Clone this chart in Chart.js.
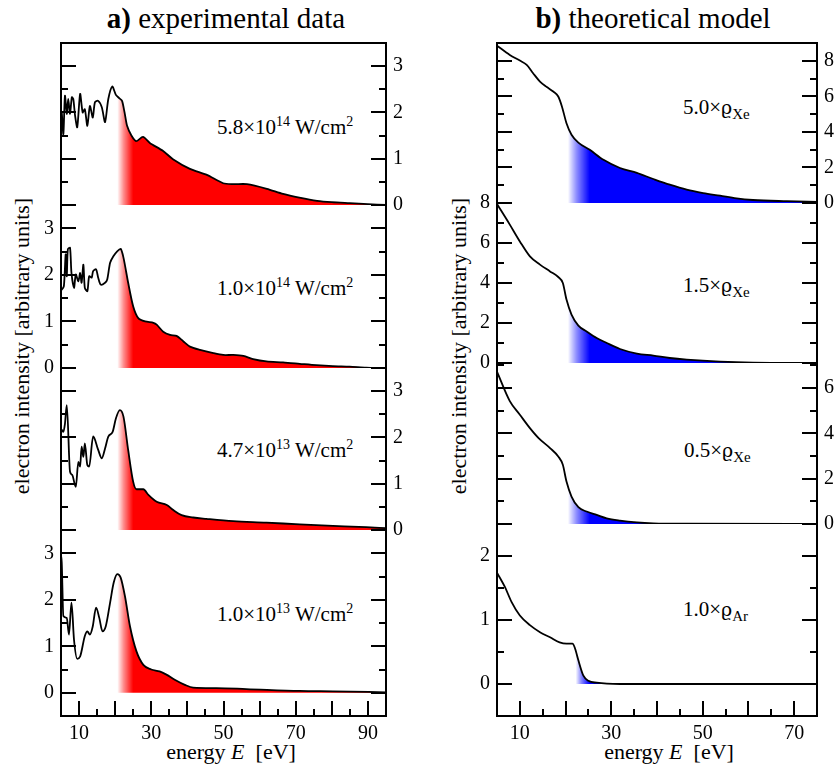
<!DOCTYPE html>
<html>
<head>
<meta charset="utf-8">
<script src="https://cdn.jsdelivr.net/npm/chart.js@4.4.1/dist/chart.umd.min.js"></script>
<style>
  body { margin: 0; background: #fff; }
  #fig { position: relative; width: 839px; height: 768px; overflow: hidden;
         font-family: 'Liberation Serif', 'Times New Roman', serif; color: #000; }
  #fig canvas { position: absolute; }
  .txt { position: absolute; white-space: nowrap; line-height: 1; }
  .head { font-size: 29px; transform: translateX(-50%); }
  .ytitle { font-size: 22px; transform: translate(-50%, -50%) rotate(-90deg); }
  .xtitle { font-size: 22px; transform: translateX(-50%); }
  .note { font-size: 21px; }
  .note sup { font-size: 14px; position: relative; top: -8px; vertical-align: baseline; }
  .note sub { font-size: 15px; position: relative; top: 5px; vertical-align: baseline; }
  .rho { font-family: 'DejaVu Serif', serif; font-size: 19px; }
</style>
</head>
<body>
<div id="fig">
  <div class="txt head" style="left:226px; top:4px"><b>a)</b> experimental data</div>
  <div class="txt head" style="left:653px; top:4px"><b>b)</b> theoretical model</div>
  <div class="txt ytitle" style="left:22px; top:346px">electron intensity [arbitrary units]</div>
  <div class="txt ytitle" style="left:459px; top:346px">electron intensity [arbitrary units]</div>
  <div class="txt xtitle" style="left:231px; top:741px">energy <i>E</i>&nbsp; [eV]</div>
  <div class="txt xtitle" style="left:669px; top:741px">energy <i>E</i>&nbsp; [eV]</div>

  <div class="txt note" style="left:217px; top:117px">5.8×10<sup>14</sup> W/cm<sup>2</sup></div>
  <div class="txt note" style="left:217px; top:278px">1.0×10<sup>14</sup> W/cm<sup>2</sup></div>
  <div class="txt note" style="left:217px; top:440px">4.7×10<sup>13</sup> W/cm<sup>2</sup></div>
  <div class="txt note" style="left:217px; top:604px">1.0×10<sup>13</sup> W/cm<sup>2</sup></div>

  <div class="txt note" style="left:683px; top:97px">5.0×<span class="rho">ϱ</span><sub>Xe</sub></div>
  <div class="txt note" style="left:683px; top:275px">1.5×<span class="rho">ϱ</span><sub>Xe</sub></div>
  <div class="txt note" style="left:684px; top:440px">0.5×<span class="rho">ϱ</span><sub>Xe</sub></div>
  <div class="txt note" style="left:683px; top:599px">1.0×<span class="rho">ϱ</span><sub>Ar</sub></div>
</div>

<script>
// ---- data (energy in eV, intensity in arbitrary units) ----

// a) experimental, 5.8e14 W/cm2
const expE1 = [5.0, 5.2, 5.65, 6.1, 6.6, 7.0, 7.5, 8.0, 8.4, 8.9, 9.5, 10.3, 11.0, 11.6, 12.3, 13.0, 13.8, 14.4, 15.3, 16.3, 17.2, 18.1, 19.2, 20.2, 21.1, 21.9, 22.6, 23.3, 24.5, 25.8, 27.7, 29.6, 33.2, 36.0, 40.7, 45.4, 49.9, 52.6, 56.5, 62.0, 66.5, 71.0, 75.9, 80.0, 85.0, 90.0, 95.0];
const expI1 = [1.85, 2.00, 1.53, 2.36, 1.97, 2.29, 1.97, 2.33, 2.29, 1.93, 1.68, 2.40, 2.00, 2.07, 1.71, 2.14, 1.89, 2.22, 2.25, 2.11, 1.79, 2.29, 2.56, 2.38, 2.31, 2.25, 2.00, 1.71, 1.50, 1.38, 1.47, 1.34, 1.17, 0.99, 0.78, 0.65, 0.47, 0.45, 0.45, 0.35, 0.24, 0.16, 0.09, 0.06, 0.04, 0.02, 0.00];

// a) experimental, 1.0e14 W/cm2
const expE2 = [5.0, 5.2, 5.8, 6.3, 6.6, 6.9, 7.5, 7.9, 8.6, 9.1, 9.8, 10.3, 10.7, 11.2, 11.6, 12.3, 12.8, 13.5, 13.9, 14.7, 15.3, 16.0, 17.2, 17.8, 18.6, 19.5, 20.5, 21.5, 22.3, 23.6, 25.0, 26.4, 28.3, 30.6, 31.5, 33.3, 35.2, 37.0, 38.9, 40.7, 43.5, 47.2, 49.9, 52.7, 55.5, 58.2, 61.9, 66.5, 71.1, 75.7, 80.3, 84.9, 89.5, 94.2];
const expI2 = [1.68, 1.68, 1.76, 2.44, 1.97, 2.55, 2.58, 2.04, 1.72, 2.01, 1.86, 2.04, 1.83, 2.22, 1.72, 1.65, 1.97, 1.94, 2.08, 2.12, 1.94, 1.79, 1.83, 1.90, 2.26, 2.40, 2.50, 2.56, 2.37, 1.83, 1.32, 1.07, 1.00, 0.97, 0.93, 0.78, 0.71, 0.69, 0.57, 0.46, 0.39, 0.32, 0.28, 0.28, 0.26, 0.19, 0.14, 0.12, 0.09, 0.06, 0.04, 0.03, 0.01, 0.00];

// a) experimental, 4.7e13 W/cm2
const expE3 = [5.0, 5.2, 5.65, 6.1, 6.6, 7.5, 8.1, 9.1, 9.8, 10.3, 10.7, 11.2, 11.6, 12.3, 12.8, 13.9, 15.3, 16.3, 17.2, 18.1, 19.3, 20.2, 21.3, 22.3, 23.6, 25.0, 25.9, 27.8, 29.2, 31.5, 34.3, 36.1, 38.4, 41.6, 45.3, 52.7, 61.9, 71.1, 80.3, 89.5, 95.0];
const expI3 = [2.10, 2.16, 2.12, 2.30, 2.70, 1.26, 1.19, 0.93, 1.47, 1.37, 1.80, 1.58, 1.87, 1.40, 1.37, 2.02, 1.73, 1.55, 1.76, 2.02, 2.12, 2.41, 2.59, 2.45, 1.73, 1.04, 0.88, 0.88, 0.76, 0.61, 0.54, 0.43, 0.32, 0.27, 0.24, 0.19, 0.16, 0.12, 0.09, 0.06, 0.04];

// a) experimental, 1.0e13 W/cm2
const expE4 = [5.0, 5.2, 5.65, 6.6, 7.2, 7.9, 8.6, 9.5, 10.3, 11.6, 12.3, 13.0, 13.8, 14.7, 15.6, 16.5, 17.4, 18.6, 19.6, 20.6, 21.5, 22.7, 24.1, 25.9, 27.8, 30.0, 32.3, 34.2, 36.5, 39.3, 41.6, 48.0, 56.3, 71.1, 80.3, 95.0];
const expI4 = [2.95, 2.80, 1.65, 1.61, 1.25, 1.94, 1.14, 0.73, 0.78, 1.22, 1.32, 1.25, 1.43, 1.83, 1.61, 1.32, 1.43, 1.94, 2.37, 2.55, 2.48, 2.08, 1.43, 0.89, 0.60, 0.50, 0.46, 0.39, 0.28, 0.17, 0.11, 0.10, 0.08, 0.04, 0.03, 0.01];

// b) theoretical, 5.0 x rho_Xe
const thE1 = [5.0, 7.8, 10.0, 11.5, 12.9, 14.4, 15.9, 17.3, 18.4, 19.2, 20.2, 21.3, 22.8, 25.3, 28.3, 31.9, 35.6, 39.2, 42.8, 46.5, 50.1, 53.8, 57.4, 61.0, 68.4, 75.0];
const thI1 = [8.85, 8.33, 8.01, 7.77, 7.30, 6.83, 6.52, 6.27, 5.99, 5.43, 4.49, 3.84, 3.40, 2.99, 2.43, 1.97, 1.69, 1.35, 1.03, 0.75, 0.56, 0.41, 0.26, 0.17, 0.10, 0.06];

// b) theoretical, 1.5 x rho_Xe
const thE2 = [5.0, 7.8, 10.0, 12.2, 14.4, 16.6, 18.4, 19.4, 20.2, 21.3, 22.8, 24.6, 26.8, 29.0, 31.9, 35.6, 39.2, 42.8, 46.5, 53.8, 61.0, 75.0];
const thI2 = [7.95, 6.92, 6.08, 5.33, 4.92, 4.58, 4.30, 4.00, 3.17, 2.42, 1.87, 1.58, 1.25, 1.00, 0.70, 0.47, 0.37, 0.25, 0.17, 0.07, 0.02, 0.00];

// b) theoretical, 0.5 x rho_Xe
const thE3 = [5.0, 7.8, 10.0, 12.2, 14.1, 16.6, 18.4, 19.4, 20.2, 21.3, 22.8, 24.6, 26.8, 29.0, 31.9, 35.6, 39.2, 46.5, 75.0];
const thI3 = [6.72, 5.42, 4.82, 4.23, 3.79, 3.35, 2.98, 2.61, 1.87, 1.21, 0.74, 0.55, 0.40, 0.25, 0.15, 0.07, 0.03, 0.01, 0.00];

// b) theoretical, 1.0 x rho_Ar
const thE4 = [5.0, 6.7, 8.2, 10.0, 12.2, 14.4, 16.6, 18.7, 20.2, 21.5, 22.0, 22.8, 23.9, 25.0, 26.8, 31.9, 75.0];
const thI4 = [1.74, 1.52, 1.28, 1.07, 0.92, 0.81, 0.73, 0.65, 0.63, 0.63, 0.57, 0.37, 0.13, 0.05, 0.02, 0.00, 0.00];

// tick labels
const xLabelsA = [10, 30, 50, 70, 90];
const xLabelsB = [10, 30, 50, 70];
const yLabelsA = [0, 1, 2, 3];
const yLabelsB = [0, 2, 4, 6, 8];
const yLabelsAr = [0, 1, 2];

Chart.defaults.font.family = "'Liberation Serif', 'Times New Roman', serif";
Chart.defaults.font.size = 20;
Chart.defaults.color = '#000';

const PAD = 24;     // room above/below each strip for the tick labels
const FIG_H = 768;

const cols = {
  a: { left: 0, width: 420, frameL: 61, frameR: 386, xmin: 5, xmax: 95, xLabels: xLabelsA, rgb: '255,0,0' },
  b: { left: 420, width: 419, frameL: 77, frameR: 397, xmin: 5, xmax: 75, xLabels: xLabelsB, rgb: '0,0,255' }
};

// noisy spectra get a light bezier, smooth ones monotone cubic
const strips = [
  { col: 'a', E: expE1, I: expI1, min: 0, max: 3.5, step: 0.5, labels: yLabelsA, side: 'right', top: 43, bottom: 205, from: 20.6, to: 25, smooth: false, first: true },
  { col: 'a', E: expE2, I: expI2, min: 0, max: 3.5, step: 0.5, labels: yLabelsA, side: 'left', top: 205, bottom: 368, from: 20.6, to: 25, smooth: false },
  { col: 'a', E: expE3, I: expI3, min: 0, max: 3.5, step: 0.5, labels: yLabelsA, side: 'right', top: 368, bottom: 530, from: 20.6, to: 25, smooth: true },
  { col: 'a', E: expE4, I: expI4, min: -0.5, max: 3.5, step: 0.5, labels: yLabelsA, side: 'left', top: 530, bottom: 716, from: 20.6, to: 25, smooth: true, last: true },
  { col: 'b', E: thE1, I: thI1, min: 0, max: 9, step: 1, labels: yLabelsB, side: 'right', top: 43, bottom: 203, from: 20.5, to: 25.3, smooth: true, first: true },
  { col: 'b', E: thE2, I: thI2, min: 0, max: 8, step: 1, labels: yLabelsB, side: 'left', top: 203, bottom: 363, from: 20.5, to: 25.3, smooth: true },
  { col: 'b', E: thE3, I: thI3, min: 0, max: 7.1, step: 1, labels: yLabelsB, side: 'right', top: 363, bottom: 524, from: 20.5, to: 25.3, smooth: true },
  { col: 'b', E: thE4, I: thI4, min: -0.5, max: 2.5, step: 0.5, labels: yLabelsAr, side: 'left', top: 524, bottom: 716, from: 22.2, to: 25.2, smooth: true, last: true }
];

const near = (v, step) => Math.abs(v / step - Math.round(v / step)) < 1e-6;

// box frame with inward tick marks, drawn from the chart's own scales
const frameTicks = {
  id: 'frameTicks',
  afterDatasetsDraw(chart, args, o) {
    const { ctx, chartArea: a, scales } = chart;
    ctx.save();
    ctx.strokeStyle = '#000';
    ctx.lineWidth = 2;
    ctx.beginPath();
    ctx.moveTo(a.left, a.top); ctx.lineTo(a.left, a.bottom);
    ctx.moveTo(a.right, a.top); ctx.lineTo(a.right, a.bottom);
    if (o.first) { ctx.moveTo(a.left - 1, a.top); ctx.lineTo(a.right + 1, a.top); }
    if (o.last) { ctx.moveTo(a.left - 1, a.bottom); ctx.lineTo(a.right + 1, a.bottom); }
    const y = scales.y;
    y.ticks.forEach(t => {
      if (!near(t.value, o.step)) return;
      const len = o.labels.includes(t.value) ? 15 : 7;
      const py = Math.round(y.getPixelForValue(t.value));
      ctx.moveTo(a.left, py); ctx.lineTo(a.left + len, py);
      ctx.moveTo(a.right, py); ctx.lineTo(a.right - len, py);
    });
    if (o.last) {
      const x = scales.x;
      x.ticks.forEach(t => {
        if (!near(t.value, 5) || t.value <= x.min || t.value >= x.max) return;
        const len = near(t.value, 10) ? 15 : 7;
        const px = Math.round(x.getPixelForValue(t.value));
        ctx.moveTo(px, a.bottom); ctx.lineTo(px, a.bottom - len);
      });
    }
    ctx.stroke();
    ctx.restore();
  }
};

// colour fading in from white over the threshold region
function fadeIn(rgb, from, to) {
  return (context) => {
    const chart = context.chart;
    if (!chart.chartArea) return 'rgba(0,0,0,0)';
    const x = chart.scales.x;
    const g = chart.ctx.createLinearGradient(x.getPixelForValue(from), 0, x.getPixelForValue(to), 0);
    g.addColorStop(0, 'rgba(' + rgb + ',0)');
    g.addColorStop(0.4, 'rgba(' + rgb + ',0.45)');
    g.addColorStop(1, 'rgb(' + rgb + ')');
    return g;
  };
}

const fig = document.getElementById('fig');

strips.forEach(s => {
  const c = cols[s.col];
  const top = s.top - PAD;
  const height = s.last ? FIG_H - top : (s.bottom - s.top) + 2 * PAD;
  const canvas = document.createElement('canvas');
  canvas.width = c.width;
  canvas.height = height;
  canvas.style.left = c.left + 'px';
  canvas.style.top = top + 'px';
  fig.appendChild(canvas);

  const yAxis = (pos, w) => ({
    type: 'linear',
    position: pos,
    min: s.min,
    max: s.max,
    afterFit: (sc) => { sc.width = w; },
    grid: { display: false, drawTicks: false },
    border: { display: false },
    ticks: {
      stepSize: s.step,
      autoSkip: false,
      includeBounds: false,
      padding: 7,
      callback: (v) => (s.side === pos && s.labels.includes(v)) ? String(v) : ''
    }
  });

  new Chart(canvas, {
    type: 'line',
    data: {
      datasets: [{
        data: s.E.map((e, i) => ({ x: e, y: s.I[i] })),
        borderColor: '#000',
        borderWidth: 1.8,
        borderJoinStyle: 'round',
        pointRadius: 0,
        tension: s.smooth ? 0 : 0.25,
        cubicInterpolationMode: s.smooth ? 'monotone' : 'default',
        fill: 'origin',
        backgroundColor: fadeIn(c.rgb, s.from, s.to)
      }]
    },
    options: {
      responsive: false,
      animation: false,
      devicePixelRatio: 1,
      events: [],
      layout: { padding: { top: PAD, bottom: s.last ? 0 : PAD, left: 0, right: 0 } },
      scales: {
        x: {
          type: 'linear',
          min: c.xmin,
          max: c.xmax,
          display: !!s.last,
          afterFit: (sc) => { if (s.last) sc.height = FIG_H - s.bottom; },
          grid: { display: false, drawTicks: false },
          border: { display: false },
          ticks: {
            stepSize: 5,
            autoSkip: false,
            maxRotation: 0,
            padding: 6,
            callback: (v) => c.xLabels.includes(v) ? String(v) : ''
          }
        },
        y: yAxis('left', c.frameL),
        y2: yAxis('right', c.width - c.frameR)
      },
      plugins: {
        legend: { display: false },
        tooltip: { enabled: false },
        frameTicks: { first: !!s.first, last: !!s.last, step: s.step, labels: s.labels }
      }
    },
    plugins: [frameTicks]
  });
});
</script>
</body>
</html>
